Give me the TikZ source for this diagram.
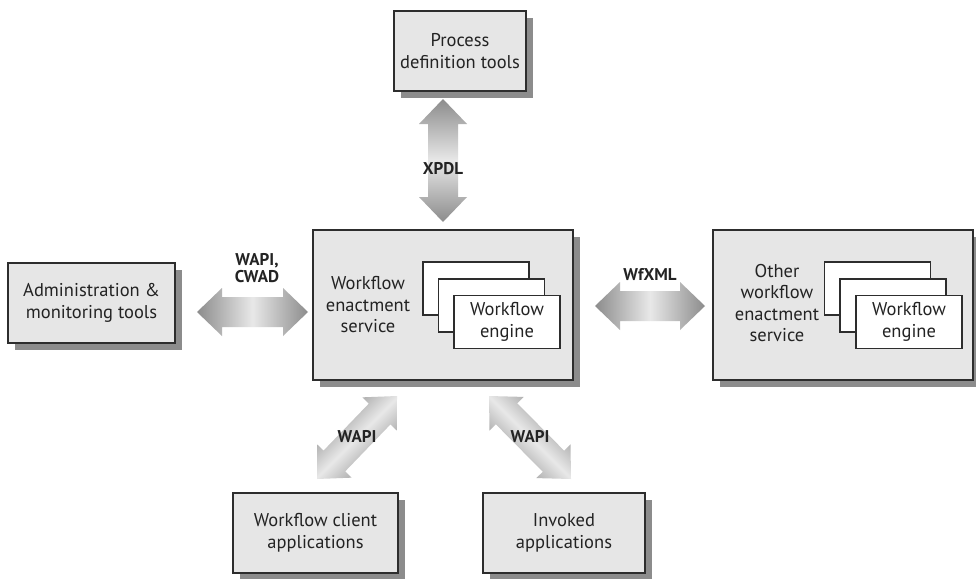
\documentclass[tikz,border=0pt]{standalone}
\usepackage{fontspec}
\setmainfont{PT Sans}
\usetikzlibrary{calc,shadows}
\definecolor{boxfill}{RGB}{230,230,230}
\definecolor{boxline}{RGB}{45,45,45}
\definecolor{txt}{RGB}{35,35,35}
\definecolor{arrdark}{RGB}{140,140,140}
\definecolor{arrlight}{RGB}{232,232,232}
\tikzset{
  boxstyle/.style={draw=boxline, line width=1.4pt, fill=boxfill, inner sep=2pt, align=center,
    font=\fontsize{18.5}{21.5}\selectfont, text=txt,
    drop shadow={shadow xshift=7pt, shadow yshift=-7pt, fill=black!60, opacity=.75}},
  engbox/.style={draw=boxline, line width=1.2pt, fill=white, minimum width=106pt, minimum height=53pt,
    inner sep=0, align=center, font=\fontsize{18.5}{21.5}\selectfont, text=txt},
  lbl/.style={font=\fontsize{17}{17.5}\selectfont\bfseries, text=txt, align=center, inner sep=1pt},
  innertxt/.style={font=\fontsize{18.5}{21.5}\selectfont, text=txt, align=center},
}
\newcommand\arrowpath[3]{% #1 A, #2 B, #3 shading style
  \shade[#3] (#1) -- ($(#1)!25pt!(#2)!24pt!90:(#2)$) -- ($(#1)!25pt!(#2)!15pt!90:(#2)$)
    -- ($(#2)!25pt!(#1)!15pt!-90:(#1)$) -- ($(#2)!25pt!(#1)!24pt!-90:(#1)$) -- (#2)
    -- ($(#2)!25pt!(#1)!24pt!90:(#1)$) -- ($(#2)!25pt!(#1)!15pt!90:(#1)$)
    -- ($(#1)!25pt!(#2)!15pt!-90:(#2)$) -- ($(#1)!25pt!(#2)!24pt!-90:(#2)$) -- cycle;
}
\begin{document}
\begin{tikzpicture}[x=1pt,y=-1pt]
\useasboundingbox (0,0) rectangle (976,578);
\fill[white] (0,0) rectangle (976,578);

% boxes
\node[boxstyle, minimum width=132pt, minimum height=80pt] (pdt) at (460,51) {Process\\definition tools};
\node[boxstyle, minimum width=260pt, minimum height=150pt] (wes) at (443,305) {};
\node[boxstyle, minimum width=260pt, minimum height=150pt] (owes) at (843,305) {};
\node[boxstyle, minimum width=167pt, minimum height=80pt] (adm) at (91.5,303) {Administration \&\\monitoring tools};
\node[boxstyle, minimum width=165pt, minimum height=80pt] (wca) at (315.5,533) {Workflow client\\applications};
\node[boxstyle, minimum width=162pt, minimum height=80pt] (inv) at (564,533) {Invoked\\applications};

% central box contents
\node[innertxt] (westxt) at (368,305) {Workflow\\enactment\\service};
\node[engbox] (e1) at (476,288.5) {};
\node[engbox] (e2) at (491.5,305.5) {};
\node[engbox] (e3) at (507,322) {Workflow\\engine};

% other box contents
\node[innertxt] (owestxt) at (777,303) {Other\\workflow\\enactment\\service};
\node[engbox] (o1) at (877.5,288.5) {};
\node[engbox] (o2) at (893,305.5) {};
\node[engbox] (o3) at (909,322) {Workflow\\engine};

% arrow end points
\coordinate (xa) at (443,99);
\coordinate (xb) at (443,222);
\coordinate (ca) at (197,312);
\coordinate (cb) at (308,312);
\coordinate (fa) at (595,306);
\coordinate (fb) at (705,306);
\coordinate (la) at (397,396);
\coordinate (lb) at (317,479);
\coordinate (ra) at (489,396);
\coordinate (rb) at (571,479);

\arrowpath{xa}{xb}{top color=arrdark, bottom color=arrdark, middle color=arrlight}
\arrowpath{ca}{cb}{left color=arrdark, right color=arrdark, middle color=arrlight}
\arrowpath{fa}{fb}{left color=arrdark, right color=arrdark, middle color=arrlight}
\arrowpath{la}{lb}{left color=arrdark, right color=arrdark, middle color=arrlight, shading angle=45}
\arrowpath{ra}{rb}{left color=arrdark, right color=arrdark, middle color=arrlight, shading angle=-45}

% labels
\node[lbl] (xpdl) at (443,169) {XPDL};
\node[lbl] (wc) at (257,268) {WAPI,\\CWAD};
\node[lbl] (wfx) at (650,275) {WfXML};
\node[lbl] (wl) at (357,437) {WAPI};
\node[lbl] (wr) at (530,437) {WAPI};
\end{tikzpicture}
\end{document}
